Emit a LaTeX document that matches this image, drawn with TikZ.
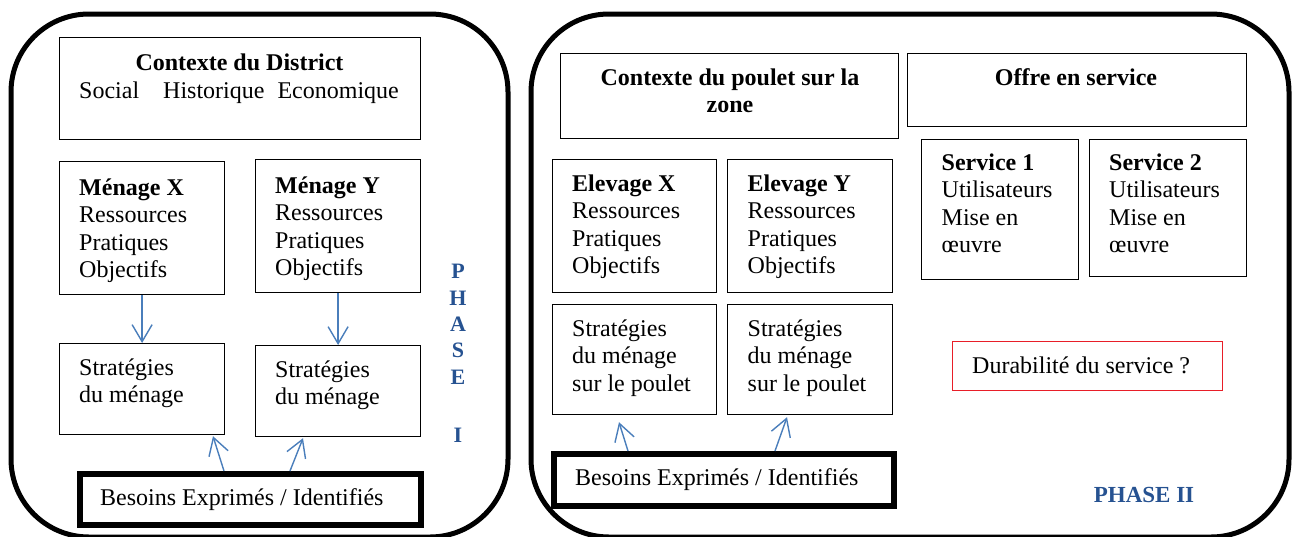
\documentclass[tikz,border=0pt]{standalone}
\usepackage{fontspec}
\setmainfont{Liberation Serif}
\usetikzlibrary{positioning,arrows.meta}
\definecolor{arrowblue}{RGB}{74,126,187}
\definecolor{phaseblue}{RGB}{38,82,145}
\definecolor{durred}{RGB}{232,30,40}

\begin{document}
\begin{tikzpicture}[x=1pt,y=-1pt,
  every node/.style={inner sep=0pt, font=\fontsize{24}{27.5}\selectfont},
  panel/.style={line width=5pt, rounded corners=78pt},
  boite/.style={draw, line width=1.2pt, anchor=north west},
  besoin/.style={draw, line width=5.5pt, anchor=north west},
  txt/.style={anchor=north west, align=left},
  fleche/.style={draw=arrowblue, line width=1.4pt, -{Straight Barb[length=17pt,width=20pt]}},
  phase/.style={text=phaseblue, font=\fontsize{22}{26}\selectfont\bfseries}]

\useasboundingbox (0,0) rectangle (1293,536);
\clip (0,0) rectangle (1293,536);

\draw[panel] (11,14) rectangle (508,537);
\draw[panel] (531,14) rectangle (1289,537);

% phase I
\node[boite, minimum width=361, minimum height=102] (ctx) at (59,37) {};
\node[anchor=base] (ctxt) at (239.5,70) {\textbf{Contexte du District}};
\node[anchor=base west] (ctxs) at (79,98) {Social\hspace{24pt}Historique\hspace{13pt}Economique};

\node[boite, minimum width=165, minimum height=133] (mx) at (59,161) {};
\node[boite, minimum width=165, minimum height=133] (my) at (255,159) {};
\node[txt] (mxt) at (79,176) {\strut\textbf{Ménage X}\\Ressources\\Pratiques\\Objectifs};
\node[txt] (myt) at (275,174) {\strut\textbf{Ménage Y}\\Ressources\\Pratiques\\Objectifs};

\node[boite, minimum width=165, minimum height=91] (smx) at (59,343) {};
\node[boite, minimum width=165, minimum height=91] (smy) at (255,345) {};
\node[txt] (smxt) at (79,356) {\strut Stratégies\\du ménage};
\node[txt] (smyt) at (275,358) {\strut Stratégies\\du ménage};

\node[besoin, minimum width=341, minimum height=51] (bl) at (77,471) {};
\node[anchor=base west] (blt) at (100,505) {Besoins Exprimés / Identifiés};

\draw[fleche] (mx.south) -- (smx.north);
\draw[fleche] (my.south) -- (smy.north);
\draw[fleche] ([xshift=147pt]bl.north west) -- ([shift={(154,1)}]smx.south west);
\draw[fleche] ([xshift=213pt]bl.north west) -- ([shift={(48,1)}]smy.south west);

\foreach \l/\y in {P/278,H/305,A/331,S/357,E/384,I/442} {
    \node[phase, anchor=base] (ph\l) at (458,\y) {\l};
}

% phase II
\node[boite, minimum width=338, minimum height=85] (cp) at (560,53) {};
\node[anchor=north, align=center, font=\fontsize{24}{27.5}\selectfont\bfseries] (cpt) at (730,66) {\strut Contexte du poulet sur la\\zone};
\node[boite, minimum width=339, minimum height=73] (os) at (907,53) {};
\node[anchor=base] (ost) at (1076,85) {\textbf{Offre en service}};

\node[boite, minimum width=164, minimum height=133] (ex) at (552,159) {};
\node[boite, minimum width=165, minimum height=133] (ey) at (727,159) {};
\node[txt] (ext) at (572,172) {\strut\textbf{Elevage X}\\Ressources\\Pratiques\\Objectifs};
\node[txt] (eyt) at (747.5,172) {\strut\textbf{Elevage Y}\\Ressources\\Pratiques\\Objectifs};

\node[boite, minimum width=157, minimum height=140] (s1) at (921,139) {};
\node[boite, minimum width=157, minimum height=137] (s2) at (1089,139) {};
\node[txt] (s1t) at (941.5,151) {\strut\textbf{Service 1}\\Utilisateurs\\Mise en\\œuvre};
\node[txt] (s2t) at (1109,151) {\strut\textbf{Service 2}\\Utilisateurs\\Mise en\\œuvre};

\node[boite, minimum width=164, minimum height=110] (srx) at (552,304) {};
\node[boite, minimum width=165, minimum height=110] (sry) at (727,304) {};
\node[txt] (srxt) at (572,317) {\strut Stratégies\\du ménage\\sur le poulet};
\node[txt] (sryt) at (747.5,317) {\strut Stratégies\\du ménage\\sur le poulet};

\node[boite, draw=durred, line width=1pt, minimum width=270, minimum height=49] (dur) at (952,341) {};
\node[anchor=base west] (durt) at (972,373) {Durabilité du service ?};

\node[besoin, minimum width=340, minimum height=52] (br) at (551,451) {};
\node[anchor=base west] (brt) at (575,485.5) {Besoins Exprimés / Identifiés};

\draw[fleche] ([xshift=77pt]br.north west) -- ([shift={(67,7)}]srx.south west);
\draw[fleche] ([xshift=224pt]br.north west) -- ([shift={(60,2)}]sry.south west);

\node[phase, anchor=base, font=\fontsize{23}{27}\selectfont\bfseries] (ph2) at (1144,502.6) {PHASE II};
\end{tikzpicture}
\end{document}
